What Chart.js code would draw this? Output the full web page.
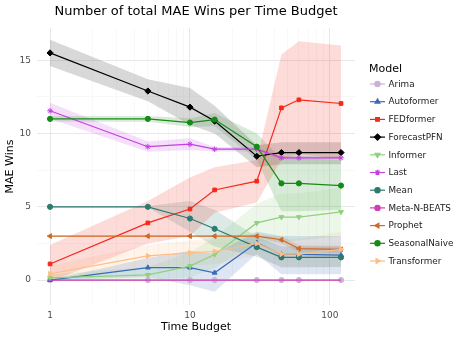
<!DOCTYPE html>
<html>
<head>
<meta charset="utf-8">
<script src="https://cdn.jsdelivr.net/npm/chart.js@4.4.1/dist/chart.umd.min.js"></script>
<style>
  html, body { margin: 0; padding: 0; background: #fff; }
  #wrap { width: 457px; height: 343px; }
</style>
</head>
<body>
<div id="wrap"><canvas id="maeChart" width="457" height="343"></canvas></div>
<script>
// Время (x) и число побед по моделям
const budgets = [1, 5, 10, 15, 30, 45, 60, 120];
const xMajorTicks = [1, 10, 100];
const yMajorTicks = [0, 5, 10, 15];

const arimaWins = [0, 0, 0, 0, 0, 0, 0, 0];
const arimaLow = [0, 0, 0, 0, 0, 0, 0, 0];
const arimaHigh = [0, 0, 0, 0, 0, 0, 0, 0];

const autoformerWins = [0, 0.85, 0.85, 0.5, 2.55, 1.75, 1.75, 1.7];
const autoformerLow = [0, 0.2, -0.35, -0.8, 1.8, 0.4, 0.4, 0.4];
const autoformerHigh = [0, 1.5, 2.0, 1.8, 3.3, 3.0, 3.0, 3.0];

const fedformerWins = [1.1, 3.9, 4.85, 6.15, 6.75, 11.75, 12.3, 12.05];
const fedformerLow = [-0.1, 2.5, 3.0, 4.6, 5.3, 8.2, 8.6, 8.3];
const fedformerHigh = [2.4, 5.4, 7.0, 7.7, 8.2, 15.4, 16.3, 16.0];

const forecastpfnWins = [15.5, 12.9, 11.8, 10.85, 8.45, 8.7, 8.7, 8.7];
const forecastpfnLow = [14.6, 12.2, 10.6, 10.0, 7.7, 7.9, 7.9, 7.9];
const forecastpfnHigh = [16.4, 13.7, 13.1, 11.9, 9.2, 9.4, 9.4, 9.4];

const informerWins = [0.15, 0.35, 0.95, 1.75, 3.9, 4.3, 4.3, 4.65];
const informerLow = [0, 0, 0.2, 0.8, 2.6, 2.6, 2.7, 3.0];
const informerHigh = [0.4, 0.9, 1.9, 2.9, 5.2, 5.9, 5.9, 6.3];

const lastWins = [11.55, 9.1, 9.27, 8.93, 8.93, 8.34, 8.34, 8.34];
const lastLow = [11.0, 8.75, 8.87, 8.78, 8.78, 8.22, 8.22, 8.22];
const lastHigh = [12.1, 9.45, 9.67, 9.08, 9.08, 8.46, 8.46, 8.46];

const meanWins = [5, 5, 4.2, 3.5, 2.25, 1.55, 1.55, 1.55];
const meanLow = [4.95, 4.95, 3.3, 2.3, 1.6, 0.9, 0.9, 0.9];
const meanHigh = [5.05, 5.05, 5.4, 4.8, 2.95, 2.3, 2.3, 2.3];

const metaNBeatsWins = [0, 0, 0, 0, 0, 0, 0, 0];
const metaNBeatsLow = [0, 0, 0, 0, 0, 0, 0, 0];
const metaNBeatsHigh = [0, 0, 0, 0, 0, 0, 0, 0];

const prophetWins = [3, 3, 3, 3, 3, 2.75, 2.15, 2.1];
const prophetLow = [2.95, 2.95, 2.95, 2.95, 2.95, 2.5, 1.9, 1.85];
const prophetHigh = [3.05, 3.05, 3.05, 3.05, 3.05, 3.0, 2.4, 2.35];

const seasonalNaiveWins = [11, 11, 10.75, 10.95, 9.1, 6.6, 6.6, 6.45];
const seasonalNaiveLow = [10.8, 10.8, 10.45, 10.5, 8.2, 4.7, 4.7, 4.8];
const seasonalNaiveHigh = [11.2, 11.2, 11.05, 11.4, 10.0, 8.3, 8.3, 8.2];

const transformerWins = [0.43, 1.65, 1.85, 1.95, 2.5, 1.77, 1.77, 2.1];
const transformerLow = [-0.1, 0.9, 1.0, 1.1, 1.7, 0.8, 0.8, 0.9];
const transformerHigh = [1.0, 2.4, 2.7, 2.8, 3.3, 2.8, 2.8, 3.3];

// Стили моделей (цвет, маркер)
const series = [
    { name: 'Arima', wins: arimaWins, low: arimaLow, high: arimaHigh, color: '#cab2d6', style: 'circle', rot: 0, r: 2.6 },
    { name: 'Autoformer', wins: autoformerWins, low: autoformerLow, high: autoformerHigh, color: '#3a6db5', style: 'triangle', rot: 0, r: 2.8 },
    { name: 'FEDformer', wins: fedformerWins, low: fedformerLow, high: fedformerHigh, color: '#f5281a', style: 'rect', rot: 0, r: 2.6 },
    { name: 'ForecastPFN', wins: forecastpfnWins, low: forecastpfnLow, high: forecastpfnHigh, color: '#000000', style: 'rectRot', rot: 0, r: 3.1 },
    { name: 'Informer', wins: informerWins, low: informerLow, high: informerHigh, color: '#8fd17e', style: 'triangle', rot: 180, r: 2.8 },
    { name: 'Last', wins: lastWins, low: lastLow, high: lastHigh, color: '#c23fe0', style: 'star', rot: 0, r: 2.8 },
    { name: 'Mean', wins: meanWins, low: meanLow, high: meanHigh, color: '#2e7a70', style: 'circle', rot: 0, r: 2.6 },
    { name: 'Meta-N-BEATS', wins: metaNBeatsWins, low: metaNBeatsLow, high: metaNBeatsHigh, color: '#d03fb4', style: 'circle', rot: 0, r: 2.6, hidePoints: true },
    { name: 'Prophet', wins: prophetWins, low: prophetLow, high: prophetHigh, color: '#cf6a26', style: 'triangle', rot: -90, r: 2.8 },
    { name: 'SeasonalNaive', wins: seasonalNaiveWins, low: seasonalNaiveLow, high: seasonalNaiveHigh, color: '#168a16', style: 'circle', rot: 0, r: 2.6 },
    { name: 'Transformer', wins: transformerWins, low: transformerLow, high: transformerHigh, color: '#fdbe85', style: 'triangle', rot: 90, r: 2.8 }
];

function withAlpha(hex, a) {
    const n = parseInt(hex.slice(1), 16);
    return `rgba(${(n >> 16) & 255}, ${(n >> 8) & 255}, ${n & 255}, ${a})`;
}

const toPoints = arr => arr.map((v, i) => ({ x: budgets[i], y: v }));

const datasets = [];
// Ленты (доверительные интервалы) — позади линий
series.forEach(s => {
    const isBlack = s.color === '#000000';
    datasets.push({
        label: s.name + '_low', data: toPoints(s.low),
        borderWidth: 0, pointRadius: 0, fill: false, order: 100
    });
    datasets.push({
        label: s.name + '_high', data: toPoints(s.high),
        borderWidth: 0, pointRadius: 0, fill: '-1', order: 100,
        backgroundColor: withAlpha(isBlack ? '#7f7f7f' : s.color, isBlack ? 0.3 : 0.17)
    });
});
// Линии с маркерами
series.forEach((s, i) => {
    datasets.push({
        label: s.name, data: toPoints(s.wins),
        borderColor: s.color, backgroundColor: s.color,
        borderWidth: 1.2, fill: false, tension: 0,
        pointStyle: s.style, pointRotation: s.rot,
        pointRadius: s.hidePoints ? 0 : s.r, pointBorderWidth: 1,
        pointBorderColor: s.color, pointBackgroundColor: s.color,
        order: 40 - i
    });
});

const textPlugin = {
    id: 'ggTexts',
    afterDraw(chart) {
        const ctx = chart.ctx;
        const area = chart.chartArea;
        ctx.save();
        ctx.fillStyle = '#000';
        ctx.textAlign = 'center';
        ctx.textBaseline = 'middle';
        ctx.font = '13px "DejaVu Sans"';
        ctx.fillText('Number of total MAE Wins per Time Budget', (area.left + area.right) / 2, 12);
        ctx.font = '11px "DejaVu Sans"';
        ctx.fillText('Time Budget', (area.left + area.right) / 2, 327);
        ctx.save();
        ctx.translate(10, (area.top + area.bottom) / 2);
        ctx.rotate(-Math.PI / 2);
        ctx.fillText('MAE Wins', 0, 0);
        ctx.restore();

        // Легенда
        ctx.textAlign = 'left';
        ctx.font = '11px "DejaVu Sans"';
        ctx.fillText('Model', 369, 69);
        ctx.font = '8.8px "DejaVu Sans"';
        series.forEach((s, i) => {
            const y = 84 + i * 17.7;
            ctx.strokeStyle = s.color;
            ctx.fillStyle = s.color;
            ctx.lineWidth = 1.2;
            ctx.beginPath();
            ctx.moveTo(370, y);
            ctx.lineTo(385, y);
            ctx.stroke();
            Chart.helpers.drawPoint(ctx, { pointStyle: s.style, radius: s.r, rotation: s.rot, borderWidth: 1 }, 377.5, y);
            ctx.fillStyle = '#1a1a1a';
            ctx.fillText(s.name, 388.5, y + 0.5);
        });
        ctx.restore();
    }
};

Chart.defaults.font.family = '"DejaVu Sans"';

new Chart(document.getElementById('maeChart'), {
    type: 'line',
    data: { datasets: datasets },
    options: {
        responsive: false,
        animation: false,
        layout: { padding: { left: 0, right: 102, top: 28, bottom: 0 } },
        plugins: {
            legend: { display: false },
            tooltip: { enabled: false },
            title: { display: false }
        },
        scales: {
            x: {
                type: 'logarithmic',
                min: 0.807,
                max: 151,
                afterBuildTicks: scale => {
                    const vals = [];
                    [1, 10, 100].forEach(d => { for (let k = 1; k <= 9; k++) if (d * k <= 150) vals.push(d * k); });
                    scale.ticks = vals.map(v => ({ value: v }));
                },
                afterFit: scale => { scale.height = 38; },
                border: { display: false },
                grid: {
                    drawTicks: false,
                    color: c => (c.tick && xMajorTicks.includes(c.tick.value)) ? '#e8e8e8' : '#f4f4f4',
                    lineWidth: c => (c.tick && xMajorTicks.includes(c.tick.value)) ? 1 : 0.6
                },
                ticks: {
                    autoSkip: false,
                    maxRotation: 0,
                    padding: 5,
                    color: '#4d4d4d',
                    font: { size: 9 },
                    callback: v => xMajorTicks.includes(v) ? String(v) : ''
                }
            },
            y: {
                min: -1.7,
                max: 17.2,
                afterBuildTicks: scale => {
                    scale.ticks = [0, 2.5, 5, 7.5, 10, 12.5, 15].map(v => ({ value: v }));
                },
                afterFit: scale => { scale.width = 37; },
                border: { display: false },
                grid: {
                    drawTicks: false,
                    color: c => (c.tick && yMajorTicks.includes(c.tick.value)) ? '#e8e8e8' : '#f4f4f4',
                    lineWidth: c => (c.tick && yMajorTicks.includes(c.tick.value)) ? 1 : 0.6
                },
                ticks: {
                    autoSkip: false,
                    padding: 6,
                    color: '#4d4d4d',
                    font: { size: 9 },
                    callback: v => yMajorTicks.includes(v) ? String(v) : ''
                }
            }
        }
    },
    plugins: [textPlugin]
});
</script>
</body>
</html>
